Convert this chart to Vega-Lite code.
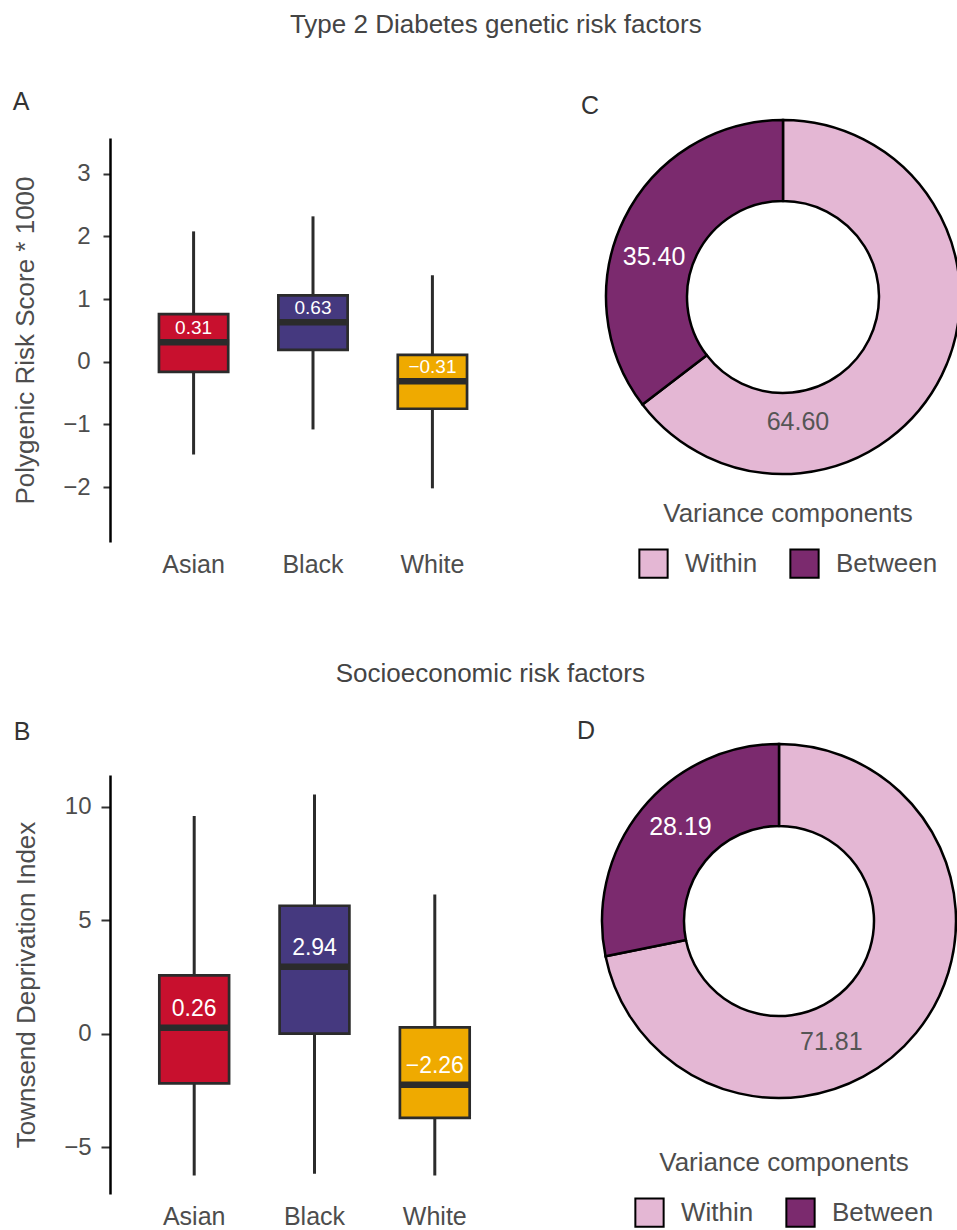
{
  "$schema": "https://vega.github.io/schema/vega-lite/v6.json",
  "padding": {"left": 12, "top": 12, "right": 0, "bottom": 0},
  "config": {
    "font": "Liberation Sans",
    "view": {"stroke": null},
    "title": {"fontWeight": "normal", "color": "#333333", "fontSize": 24},
    "axis": {"labelColor": "#4d4d4d", "titleColor": "#4d4d4d", "titleFontWeight": "normal", "grid": false}
  },
  "spacing": 79,
  "resolve": {"scale": {"color": "independent", "fill": "independent"}, "legend": {"color": "independent", "fill": "independent"}},
  "vconcat": [
    {
      "title": {"text": "Type 2 Diabetes genetic risk factors", "offset": 52, "anchor": "middle", "fontSize": 26, "dx": 7, "color": "#444444"},
      "spacing": 65,
      "resolve": {"scale": {"color": "independent", "fill": "independent"}, "legend": {"color": "independent", "fill": "independent"}},
      "hconcat": [
        {
          "width": 406, "height": 404,
          "title": {"text": "A", "anchor": "start", "frame": "bounds", "offset": 23, "fontSize": 25},
          "data": {"values": [
            {"group": "Asian", "lower": -1.48, "q1": -0.16, "median": 0.31, "q3": 0.76, "upper": 2.08},
            {"group": "Black", "lower": -1.08, "q1": 0.19, "median": 0.63, "q3": 1.06, "upper": 2.32},
            {"group": "White", "lower": -2.02, "q1": -0.75, "median": -0.31, "q3": 0.11, "upper": 1.38}
          ]},
          "encoding": {
            "x": {"field": "group", "type": "nominal", "scale": {"paddingInner": 0, "paddingOuter": 0.2},
                  "axis": {"title": null, "domain": false, "ticks": false, "labelAngle": 0, "labelFontSize": 25, "labelPadding": 10}}
          },
          "layer": [
            {"mark": {"type": "rule", "color": "#2b2b2b", "strokeWidth": 3},
             "encoding": {
               "y": {"field": "lower", "type": "quantitative", "scale": {"domain": [-2.876, 3.57], "nice": false, "zero": false},
                     "axis": {"title": "Polygenic Risk Score * 1000", "values": [-2, -1, 0, 1, 2, 3], "format": "d", "domainColor": "black", "domainWidth": 2.5, "tickColor": "#333333", "tickWidth": 2, "tickSize": 7, "labelPadding": 13, "labelFontSize": 24, "titleFontSize": 26, "titlePadding": 24}},
               "y2": {"field": "upper"}
             }},
            {"mark": {"type": "bar", "width": {"band": 0.58}, "stroke": "#2b2b2b", "strokeWidth": 2.7},
             "encoding": {
               "y": {"field": "q1", "type": "quantitative"},
               "y2": {"field": "q3"},
               "fill": {"field": "group", "type": "nominal", "scale": {"domain": ["Asian", "Black", "White"], "range": ["#C8102E", "#45397F", "#EFAA00"]}, "legend": null}
             }},
            {"mark": {"type": "tick", "color": "#2b2b2b", "thickness": 6.5, "size": 71, "opacity": 1},
             "encoding": {"y": {"field": "median", "type": "quantitative"}}},
            {"mark": {"type": "text", "color": "white", "fontSize": 19, "dy": -14, "baseline": "middle"},
             "encoding": {
               "y": {"field": "median", "type": "quantitative"},
               "text": {"field": "median", "type": "quantitative", "format": ".2f"}
             }}
          ]
        },
        {
          "width": 346, "height": 318,
          "title": {"text": "C", "anchor": "start", "frame": "group", "offset": -4, "dx": -29, "fontSize": 25},
          "data": {"values": [
            {"component": "Within", "value": 64.60},
            {"component": "Between", "value": 35.40}
          ]},
          "encoding": {
            "theta": {"field": "value", "type": "quantitative", "stack": true},
            "order": {"field": "component", "type": "ordinal", "sort": "descending"}
          },
          "layer": [
            {"mark": {"type": "arc", "outerRadius": 177, "innerRadius": 96, "stroke": "black", "strokeWidth": 2.5},
             "encoding": {
               "color": {"field": "component", "type": "nominal", "scale": {"domain": ["Within", "Between"], "range": ["#E4B7D4", "#7B2A6E"]},
                         "legend": {"orient": "none", "legendX": 28, "legendY": 363, "direction": "horizontal", "title": "Variance components", "titleAnchor": "middle", "titleFontSize": 26, "titleFontWeight": "normal", "titleColor": "#4d4d4d", "titlePadding": 21, "labelFontSize": 26, "labelColor": "#4d4d4d", "symbolType": "square", "symbolSize": 800, "symbolStrokeColor": "black", "symbolStrokeWidth": 2, "symbolOpacity": 1, "labelOffset": 16, "columnPadding": 28, "titleLimit": 400, "labelLimit": 300}}
             }},
            {"mark": {"type": "text", "radius": 135, "thetaOffset": -0.159, "fontSize": 25, "color": "white", "baseline": "middle"},
             "encoding": {
               "detail": {"field": "component", "type": "nominal"},
               "text": {"field": "value", "type": "quantitative", "format": ".2f"},
               "opacity": {"condition": {"test": "datum.component == 'Between'", "value": 1}, "value": 0}
             }},
            {"mark": {"type": "text", "radius": 126, "thetaOffset": 0.993, "fontSize": 25, "color": "#555555", "baseline": "middle"},
             "encoding": {
               "detail": {"field": "component", "type": "nominal"},
               "text": {"field": "value", "type": "quantitative", "format": ".2f"},
               "opacity": {"condition": {"test": "datum.component == 'Within'", "value": 1}, "value": 0}
             }}
          ]
        }
      ]
    },
    {
      "title": {"text": "Socioeconomic risk factors", "offset": 32, "anchor": "middle", "fontSize": 26, "dx": 3, "color": "#444444"},
      "spacing": 58,
      "resolve": {"scale": {"color": "independent", "fill": "independent"}, "legend": {"color": "independent", "fill": "independent"}},
      "hconcat": [
        {
          "width": 409, "height": 419,
          "title": {"text": "B", "anchor": "start", "frame": "bounds", "offset": 30, "fontSize": 25},
          "data": {"values": [
            {"group": "Asian", "lower": -6.26, "q1": -2.20, "median": 0.26, "q3": 2.56, "upper": 9.58},
            {"group": "Black", "lower": -6.18, "q1": 0.0, "median": 2.94, "q3": 5.63, "upper": 10.53},
            {"group": "White", "lower": -6.26, "q1": -3.72, "median": -2.26, "q3": 0.27, "upper": 6.13}
          ]},
          "encoding": {
            "x": {"field": "group", "type": "nominal", "scale": {"paddingInner": 0, "paddingOuter": 0.2},
                  "axis": {"title": null, "domain": false, "ticks": false, "labelAngle": 0, "labelFontSize": 25, "labelPadding": 10}}
          },
          "layer": [
            {"mark": {"type": "rule", "color": "#2b2b2b", "strokeWidth": 3},
             "encoding": {
               "y": {"field": "lower", "type": "quantitative", "scale": {"domain": [-7.07, 11.39], "nice": false, "zero": false},
                     "axis": {"title": "Townsend Deprivation Index", "values": [-5, 0, 5, 10], "format": "d", "domainColor": "black", "domainWidth": 2.5, "tickColor": "#333333", "tickWidth": 2, "tickSize": 9, "labelPadding": 10, "labelFontSize": 24, "titleFontSize": 26, "titlePadding": 24}},
               "y2": {"field": "upper"}
             }},
            {"mark": {"type": "bar", "width": {"band": 0.58}, "stroke": "#2b2b2b", "strokeWidth": 2.7},
             "encoding": {
               "y": {"field": "q1", "type": "quantitative"},
               "y2": {"field": "q3"},
               "fill": {"field": "group", "type": "nominal", "scale": {"domain": ["Asian", "Black", "White"], "range": ["#C8102E", "#45397F", "#EFAA00"]}, "legend": null}
             }},
            {"mark": {"type": "tick", "color": "#2b2b2b", "thickness": 6.5, "size": 71, "opacity": 1},
             "encoding": {"y": {"field": "median", "type": "quantitative"}}},
            {"mark": {"type": "text", "color": "white", "fontSize": 23, "dy": -19, "baseline": "middle"},
             "encoding": {
               "y": {"field": "median", "type": "quantitative"},
               "text": {"field": "median", "type": "quantitative", "format": ".2f"}
             }}
          ]
        },
        {
          "width": 346, "height": 292,
          "title": {"text": "D", "anchor": "start", "frame": "group", "offset": -5, "dx": -29, "fontSize": 25},
          "data": {"values": [
            {"component": "Within", "value": 71.81},
            {"component": "Between", "value": 28.19}
          ]},
          "encoding": {
            "theta": {"field": "value", "type": "quantitative", "stack": true},
            "order": {"field": "component", "type": "ordinal", "sort": "descending"}
          },
          "layer": [
            {"mark": {"type": "arc", "outerRadius": 177, "innerRadius": 95, "stroke": "black", "strokeWidth": 2.5},
             "encoding": {
               "color": {"field": "component", "type": "nominal", "scale": {"domain": ["Within", "Between"], "range": ["#E4B7D4", "#7B2A6E"]},
                         "legend": {"orient": "none", "legendX": 28, "legendY": 375, "direction": "horizontal", "title": "Variance components", "titleAnchor": "middle", "titleFontSize": 26, "titleFontWeight": "normal", "titleColor": "#4d4d4d", "titlePadding": 21, "labelFontSize": 26, "labelColor": "#4d4d4d", "symbolType": "square", "symbolSize": 800, "symbolStrokeColor": "black", "symbolStrokeWidth": 2, "symbolOpacity": 1, "labelOffset": 16, "columnPadding": 28, "titleLimit": 400, "labelLimit": 300}}
             }},
            {"mark": {"type": "text", "radius": 136, "thetaOffset": 0.075, "fontSize": 25, "color": "white", "baseline": "middle"},
             "encoding": {
               "detail": {"field": "component", "type": "nominal"},
               "text": {"field": "value", "type": "quantitative", "format": ".2f"},
               "opacity": {"condition": {"test": "datum.component == 'Between'", "value": 1}, "value": 0}
             }},
            {"mark": {"type": "text", "radius": 132, "thetaOffset": 0.478, "fontSize": 25, "color": "#555555", "baseline": "middle"},
             "encoding": {
               "detail": {"field": "component", "type": "nominal"},
               "text": {"field": "value", "type": "quantitative", "format": ".2f"},
               "opacity": {"condition": {"test": "datum.component == 'Within'", "value": 1}, "value": 0}
             }}
          ]
        }
      ]
    }
  ]
}
